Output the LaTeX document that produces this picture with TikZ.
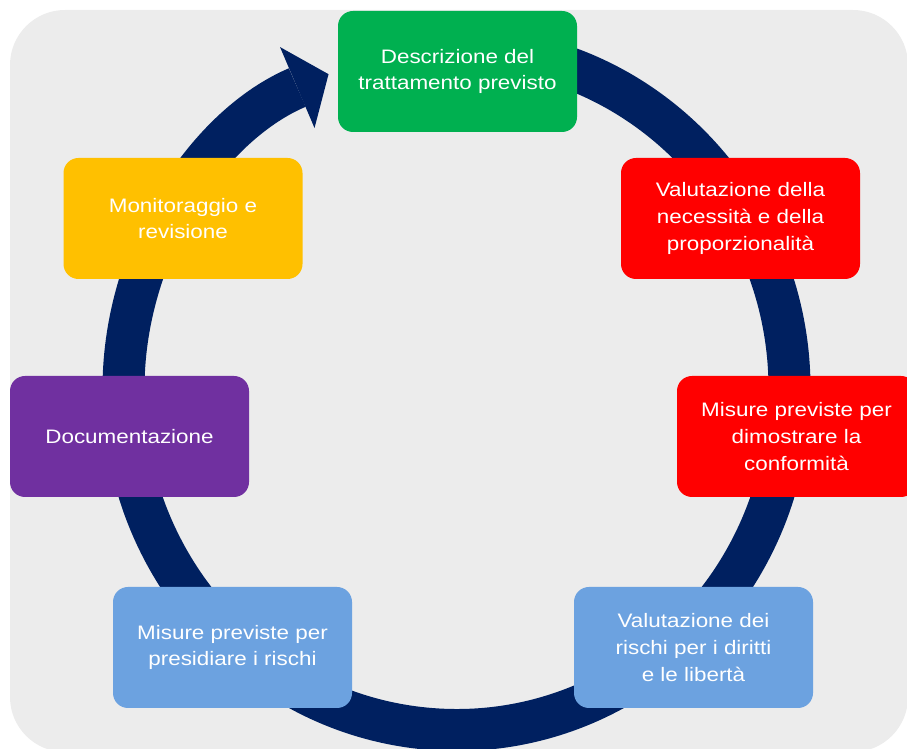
\documentclass[tikz,border=0pt]{standalone}
\usepackage{fontspec}
\setmainfont{Liberation Sans}[FakeStretch=1.15]
\usetikzlibrary{arrows.meta}
\definecolor{sfondo}{HTML}{ECECEC}
\definecolor{blunotte}{HTML}{002060}
\definecolor{verde}{HTML}{00B050}
\definecolor{rosso}{HTML}{FF0000}
\definecolor{giallo}{HTML}{FFC000}
\definecolor{viola}{HTML}{7030A0}
\definecolor{azzurro}{HTML}{6CA2E0}
\begin{document}
\begin{tikzpicture}[x=1pt,y=1pt,
		fase/.style={rounded corners=15pt, minimum width=239pt, minimum height=121pt, inner sep=0pt, text=white, align=center, font=\fontsize{19.5}{26.7}\selectfont},
		ciclo/.style={line width=42pt, draw=blunotte, -{Triangle[width=88pt,length=34pt,line width=0pt]}}]
			\useasboundingbox (0,0) rectangle (907,749);
			\fill[sfondo, rounded corners=55pt] (10,-3) rectangle (908,739);
			\coordinate (centro) at (456.5,360);
			\draw[ciclo] ([shift={(85:333pt and 341pt)}]centro) arc[start angle=85, end angle=-247.4, x radius=333pt, y radius=341pt];
			\node[fase, fill=verde] (descrizione) at (457.5,677.5) {Descrizione del\\trattamento previsto};
			\node[fase, fill=rosso] (necessita) at (740.5,530.5) {Valutazione della\\necessità e della\\proporzionalità};
			\node[fase, fill=rosso] (conformita) at (796.5,312.5) {Misure previste per\\dimostrare la\\conformità};
			\node[fase, fill=azzurro] (rischi) at (693.5,101.5) {Valutazione dei\\rischi per i diritti\\e le libertà};
			\node[fase, fill=azzurro] (presidio) at (232.5,101.5) {Misure previste per\\presidiare i rischi};
			\node[fase, fill=viola] (documentazione) at (129.5,312.5) {Documentazione};
			\node[fase, fill=giallo] (monitoraggio) at (183,530.5) {Monitoraggio e\\revisione};
		\end{tikzpicture}
\end{document}
